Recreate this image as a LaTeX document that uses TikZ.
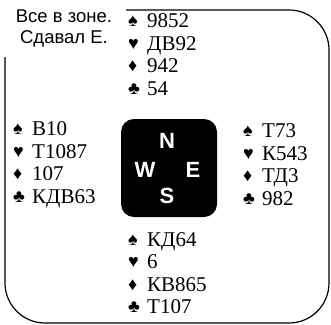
\documentclass[tikz,border=0pt]{standalone}
\usepackage{fontspec}
\setmainfont{Liberation Serif}
\setsansfont{Liberation Sans}
\usetikzlibrary{calc}

\newcommand{\suitrow}[2]{\makebox[19pt][l]{\raisebox{0.8pt}{\fontsize{18}{22.5}\selectfont #1}}#2}
\newcommand{\cards}[4]{\suitrow{♠}{#1}\\\suitrow{♥}{#2}\\\suitrow{♦}{#3}\\\suitrow{♣}{#4}}

\begin{document}
\begin{tikzpicture}[x=1pt, y=-1pt,
    frame/.style={draw, line width=1.2pt, rounded corners=40pt, minimum width=324pt, minimum height=313pt, inner sep=0pt},
    deal/.style={fill=white, minimum width=124pt, minimum height=57pt, inner sep=0pt, align=center, font=\sffamily\fontsize{18.5}{20.5}\selectfont},
    hand/.style={anchor=west, align=left, inner sep=0pt, font=\fontsize{21}{22.5}\selectfont},
    compass/.style={fill=black, rounded corners=13pt, minimum width=96pt, minimum height=98pt, inner sep=0pt},
    seat/.style={text=white, inner sep=0pt, font=\sffamily\bfseries\fontsize{22}{24}\selectfont}
]
\useasboundingbox (0,0) rectangle (331,324);
\node[frame] (frame) at (167,166.5) {};
\node[deal] (deal) at (64,28.5) {Все в зоне.\\Сдавал Е.};

\node[compass] (table) at (169,168) {};
\node[seat] (n) at ($(table.center)+(-2,-27.5)$) {N};
\node[seat] (w) at ($(table.center)+(-24,2)$) {W};
\node[seat] (e) at ($(table.center)+(24,2)$) {E};
\node[seat] (s) at ($(table.center)+(-2,28)$) {S};

\node[hand] (north) at (128,54.5) {\cards{9852}{ДВ92}{942}{54}};
\node[hand] (west) at (13,164.5) {\cards{В10}{Т1087}{107}{КДВ63}};
\node[hand] (east) at (243,164.5) {\cards{Т73}{К543}{ТД3}{982}};
\node[hand] (south) at (128,273) {\cards{КД64}{6}{КВ865}{Т107}};
\end{tikzpicture}
\end{document}
